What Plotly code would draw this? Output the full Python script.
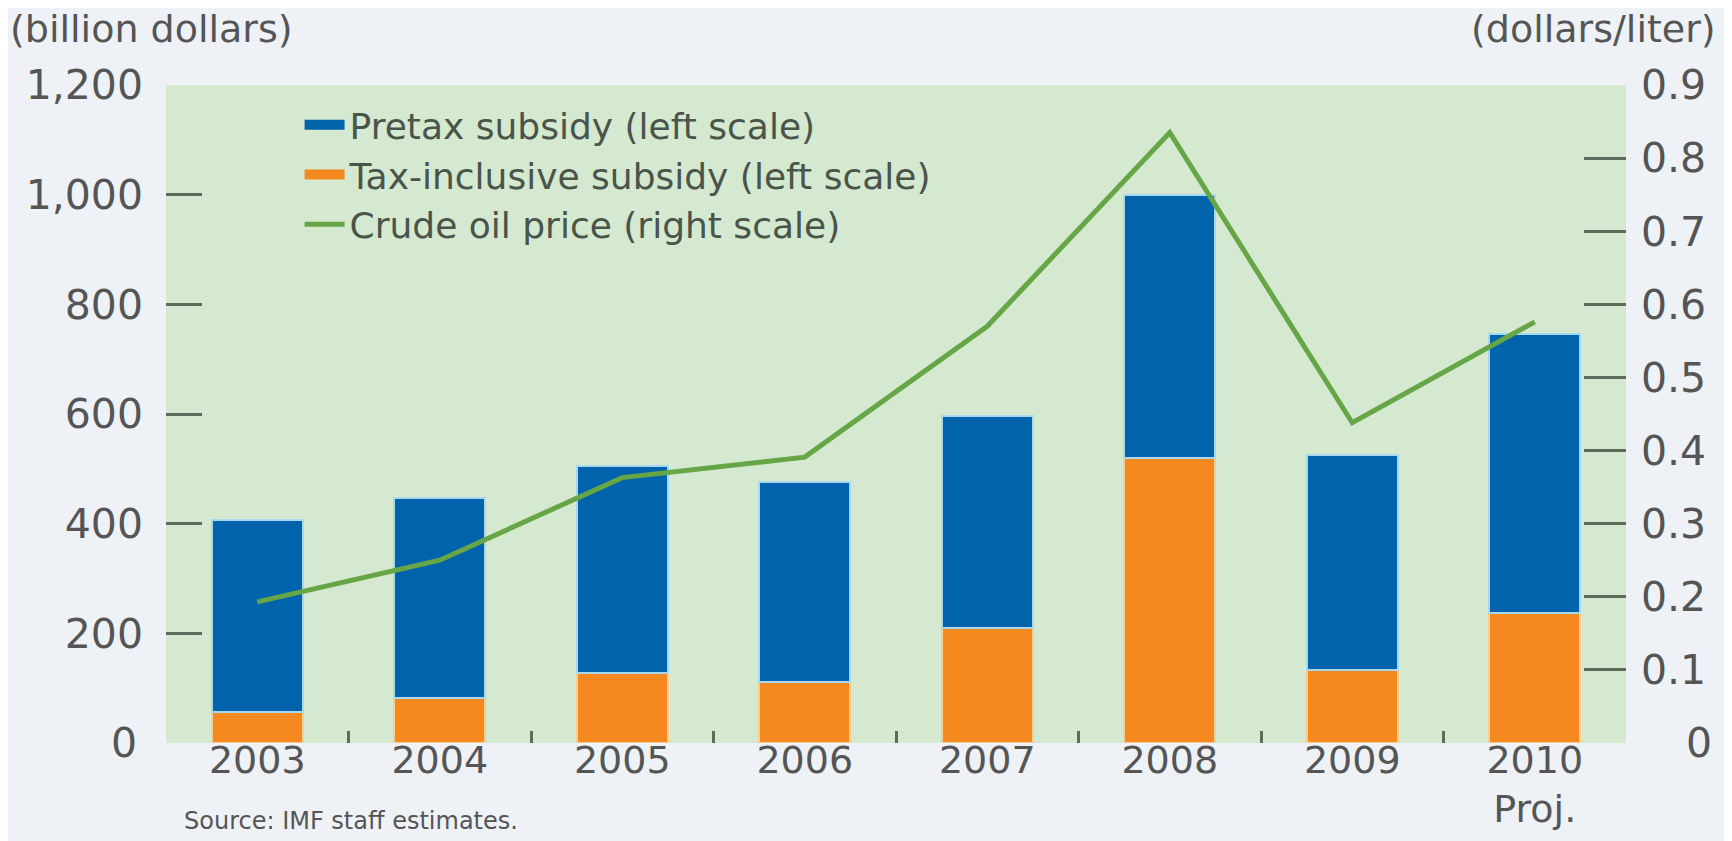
import plotly.graph_objects as go

# ---- data ----
years = ["2003", "2004", "2005", "2006", "2007", "2008", "2009", "2010<br>Proj."]
tax_inclusive = [57, 82, 128, 112, 209, 519, 134, 238]          # orange, bottom segment
pretax = [350, 364, 377, 364, 387, 481, 391, 508]               # blue, top segment
crude_price = [0.193, 0.250, 0.363, 0.391, 0.570, 0.835, 0.438, 0.576]  # dollars/liter

left_ticks = [200, 400, 600, 800, 1000, 1200]
right_ticks = [0.1, 0.2, 0.3, 0.4, 0.5, 0.6, 0.7, 0.8, 0.9]

FONT = "DejaVu Sans"
TXT = "#555555"
TICKC = "#5d6b5d"
TICKSIZE = 41
BLUE = "#0063ab"
ORANGE = "#f4891f"
GREEN = "#66a646"

fig = go.Figure()
fig.add_trace(go.Bar(
    x=years, y=tax_inclusive, name="Tax-inclusive subsidy (left scale)",
    marker=dict(color=ORANGE, line=dict(color="#f7cf94", width=2)),
    width=0.5, showlegend=False, legendgroup="tax",
))
fig.add_trace(go.Bar(
    x=years, y=pretax, name="Pretax subsidy (left scale)",
    marker=dict(color=BLUE, line=dict(color="#a6d8ee", width=2)),
    width=0.5, showlegend=False, legendgroup="pre",
))
fig.add_trace(go.Scatter(
    x=years, y=crude_price, name="Crude oil price (right scale)", yaxis="y2",
    mode="lines", line=dict(color=GREEN, width=5), legendrank=3,
))
# legend-only entries giving the bar series wide rectangular swatches
fig.add_trace(go.Scatter(
    x=[None], y=[None], name="Pretax subsidy (left scale)", mode="lines",
    line=dict(color=BLUE, width=20), legendrank=1, legendgroup="pre",
))
fig.add_trace(go.Scatter(
    x=[None], y=[None], name="Tax-inclusive subsidy (left scale)", mode="lines",
    line=dict(color=ORANGE, width=20), legendrank=2, legendgroup="tax",
))

fig.update_layout(
    width=1732, height=841,
    margin=dict(l=158, r=114, t=77, b=106, autoexpand=False),
    paper_bgcolor="#eef2f6",
    plot_bgcolor="#d4e9d0",
    barmode="stack",
    bargap=0.5,
    font=dict(family=FONT, size=TICKSIZE, color=TXT),
    showlegend=True,
    legend=dict(
        x=0.0915, y=0.985, xanchor="left", yanchor="top",
        bgcolor="rgba(0,0,0,0)", traceorder="normal",
        font=dict(family=FONT, size=36, color="#4a544a"),
        tracegroupgap=0, itemwidth=40,
    ),
    xaxis=dict(
        type="category", range=[-0.5, 7.5], automargin=False,
        tickson="boundaries", ticks="inside", ticklen=12, tickwidth=3, tickcolor=TICKC,
        showgrid=False, showline=False, zeroline=False,
        tickfont=dict(family=FONT, size=38, color=TXT),
        ticklabelstandoff=-9,
    ),
    yaxis=dict(
        range=[0, 1200], tickvals=left_ticks, tickformat=",", automargin=False,
        ticks="inside", ticklen=36, tickwidth=3, tickcolor=TICKC,
        showgrid=False, showline=False, zeroline=False,
        tickfont=dict(family=FONT, size=TICKSIZE, color=TXT),
        ticklabelstandoff=22,
    ),
    yaxis2=dict(
        range=[0, 0.9], tickvals=right_ticks, tickformat=".1f", automargin=False,
        overlaying="y", side="right",
        ticks="inside", ticklen=42, tickwidth=3, tickcolor=TICKC,
        showgrid=False, showline=False, zeroline=False,
        tickfont=dict(family=FONT, size=TICKSIZE, color=TXT),
        ticklabelstandoff=14,
    ),
    annotations=[
        dict(text="(billion dollars)", xref="paper", yref="paper", x=-0.108, y=1.085,
             xanchor="left", yanchor="middle", showarrow=False,
             font=dict(family=FONT, size=38, color=TXT)),
        dict(text="(dollars/liter)", xref="paper", yref="paper", x=1.063, y=1.085,
             xanchor="right", yanchor="middle", showarrow=False,
             font=dict(family=FONT, size=38, color=TXT)),
        dict(text="0", xref="paper", yref="y", x=-0.0185, y=0,
             xanchor="right", yanchor="middle", showarrow=False,
             font=dict(family=FONT, size=TICKSIZE, color=TXT)),
        dict(text="0", xref="paper", yref="y", x=1.06, y=0,
             xanchor="right", yanchor="middle", showarrow=False,
             font=dict(family=FONT, size=TICKSIZE, color=TXT)),
        dict(text="Source: IMF staff estimates.", xref="paper", yref="paper", x=0.011, y=-0.143,
             xanchor="left", yanchor="bottom", showarrow=False,
             font=dict(family=FONT, size=24, color=TXT)),
    ],
)

fig.write_html("out.html")
